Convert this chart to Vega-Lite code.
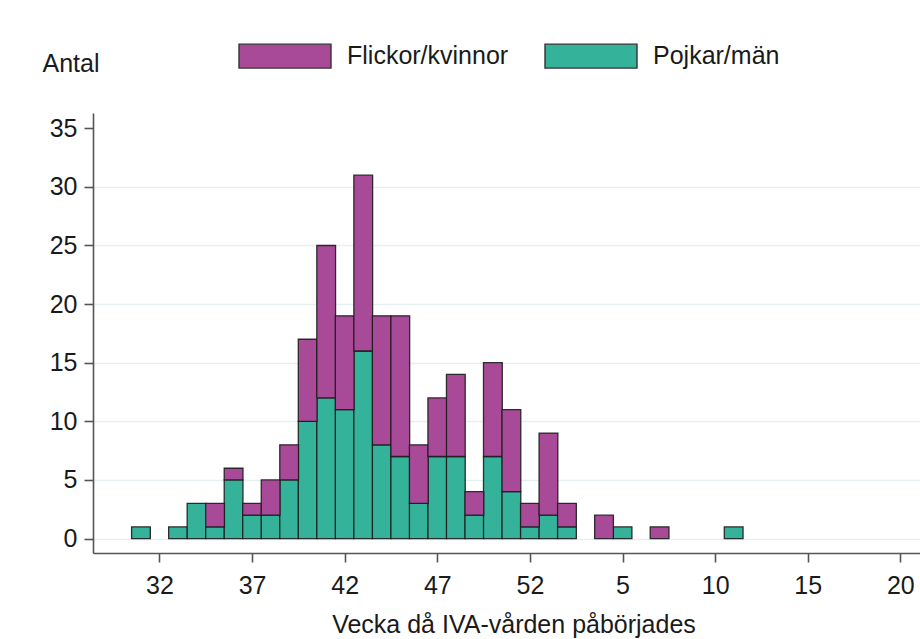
{
  "$schema": "https://vega.github.io/schema/vega-lite/v6.json",
  "autosize": {"type": "none"},
  "width": 827,
  "height": 440,
  "padding": {"left": 93, "top": 113, "right": 0, "bottom": 86},
  "background": "white",
  "config": {
    "view": {"stroke": null},
    "font": "Liberation Sans"
  },
  "data": {
    "values": [
      {"vecka": 31, "kon": "Pojkar/män", "antal": 1},
      {"vecka": 33, "kon": "Pojkar/män", "antal": 1},
      {"vecka": 34, "kon": "Pojkar/män", "antal": 3},
      {"vecka": 35, "kon": "Pojkar/män", "antal": 1},
      {"vecka": 36, "kon": "Pojkar/män", "antal": 5},
      {"vecka": 37, "kon": "Pojkar/män", "antal": 2},
      {"vecka": 38, "kon": "Pojkar/män", "antal": 2},
      {"vecka": 39, "kon": "Pojkar/män", "antal": 5},
      {"vecka": 40, "kon": "Pojkar/män", "antal": 10},
      {"vecka": 41, "kon": "Pojkar/män", "antal": 12},
      {"vecka": 42, "kon": "Pojkar/män", "antal": 11},
      {"vecka": 43, "kon": "Pojkar/män", "antal": 16},
      {"vecka": 44, "kon": "Pojkar/män", "antal": 8},
      {"vecka": 45, "kon": "Pojkar/män", "antal": 7},
      {"vecka": 46, "kon": "Pojkar/män", "antal": 3},
      {"vecka": 47, "kon": "Pojkar/män", "antal": 7},
      {"vecka": 48, "kon": "Pojkar/män", "antal": 7},
      {"vecka": 49, "kon": "Pojkar/män", "antal": 2},
      {"vecka": 50, "kon": "Pojkar/män", "antal": 7},
      {"vecka": 51, "kon": "Pojkar/män", "antal": 4},
      {"vecka": 52, "kon": "Pojkar/män", "antal": 1},
      {"vecka": 53, "kon": "Pojkar/män", "antal": 2},
      {"vecka": 54, "kon": "Pojkar/män", "antal": 1},
      {"vecka": 57, "kon": "Pojkar/män", "antal": 1},
      {"vecka": 63, "kon": "Pojkar/män", "antal": 1},
      {"vecka": 35, "kon": "Flickor/kvinnor", "antal": 2},
      {"vecka": 36, "kon": "Flickor/kvinnor", "antal": 1},
      {"vecka": 37, "kon": "Flickor/kvinnor", "antal": 1},
      {"vecka": 38, "kon": "Flickor/kvinnor", "antal": 3},
      {"vecka": 39, "kon": "Flickor/kvinnor", "antal": 3},
      {"vecka": 40, "kon": "Flickor/kvinnor", "antal": 7},
      {"vecka": 41, "kon": "Flickor/kvinnor", "antal": 13},
      {"vecka": 42, "kon": "Flickor/kvinnor", "antal": 8},
      {"vecka": 43, "kon": "Flickor/kvinnor", "antal": 15},
      {"vecka": 44, "kon": "Flickor/kvinnor", "antal": 11},
      {"vecka": 45, "kon": "Flickor/kvinnor", "antal": 12},
      {"vecka": 46, "kon": "Flickor/kvinnor", "antal": 5},
      {"vecka": 47, "kon": "Flickor/kvinnor", "antal": 5},
      {"vecka": 48, "kon": "Flickor/kvinnor", "antal": 7},
      {"vecka": 49, "kon": "Flickor/kvinnor", "antal": 2},
      {"vecka": 50, "kon": "Flickor/kvinnor", "antal": 8},
      {"vecka": 51, "kon": "Flickor/kvinnor", "antal": 7},
      {"vecka": 52, "kon": "Flickor/kvinnor", "antal": 2},
      {"vecka": 53, "kon": "Flickor/kvinnor", "antal": 7},
      {"vecka": 54, "kon": "Flickor/kvinnor", "antal": 2},
      {"vecka": 56, "kon": "Flickor/kvinnor", "antal": 2},
      {"vecka": 59, "kon": "Flickor/kvinnor", "antal": 1}
    ]
  },
  "mark": {"type": "bar", "size": 18.75, "stroke": "#1c1c1c", "strokeWidth": 1.3, "strokeOpacity": 0.9},
  "encoding": {
    "x": {
      "field": "vecka",
      "type": "quantitative",
      "scale": {"domain": [28.68, 72.79], "nice": false, "zero": false},
      "axis": {
        "values": [32, 37, 42, 47, 52, 57, 62, 67, 72],
        "labelExpr": "datum.value > 52 ? datum.value - 52 : datum.value",
        "grid": false,
        "domainColor": "#555555",
        "domainWidth": 1.6,
        "tickColor": "#555555",
        "tickWidth": 1.6,
        "tickSize": 9,
        "labelFont": "Liberation Sans",
        "labelFontSize": 25,
        "labelColor": "#1a1a1a",
        "labelBaseline": "alphabetic",
        "labelPadding": 31,
        "labelFlush": false,
        "labelOverlap": false,
        "title": "Vecka då IVA-vården påbörjades",
        "titleFont": "Liberation Sans",
        "titleFontSize": 25,
        "titleFontWeight": "normal",
        "titleColor": "#1a1a1a",
        "titleX": 420.5,
        "titleY": 79,
        "titleAlign": "center",
        "titleBaseline": "alphabetic"
      }
    },
    "y": {
      "field": "antal",
      "type": "quantitative",
      "stack": "zero",
      "scale": {"domain": [-1.23, 36.3], "nice": false, "zero": false},
      "axis": {
        "values": [0, 5, 10, 15, 20, 25, 30, 35],
        "grid": true,
        "gridColor": {"condition": {"test": "datum.value === 35", "value": "transparent"}, "value": "#e6eff2"},
        "gridWidth": 1.6,
        "domainColor": "#555555",
        "domainWidth": 1.6,
        "tickColor": "#555555",
        "tickWidth": 1.6,
        "tickSize": 9,
        "labelFont": "Liberation Sans",
        "labelFontSize": 25,
        "labelColor": "#1a1a1a",
        "labelPadding": 7,
        "labelBaseline": "middle",
        "labelFlush": false,
        "labelOverlap": false,
        "title": "Antal",
        "titleAngle": 0,
        "titleFont": "Liberation Sans",
        "titleFontSize": 25,
        "titleFontWeight": "normal",
        "titleColor": "#1a1a1a",
        "titleX": -51,
        "titleY": -42,
        "titleAlign": "left",
        "titleBaseline": "alphabetic"
      }
    },
    "color": {
      "field": "kon",
      "type": "nominal",
      "scale": {"domain": ["Flickor/kvinnor", "Pojkar/män"], "range": ["#a94a99", "#34b29a"]},
      "legend": {
        "title": null,
        "orient": "none",
        "direction": "horizontal",
        "legendX": 145,
        "legendY": -104,
        "padding": 0,
        "symbolType": "M-1,-0.26H1V0.26H-1Z",
        "symbolSize": 8464,
        "symbolStrokeColor": "#333333",
        "symbolStrokeWidth": 1.4,
        "symbolOpacity": 1,
        "labelOffset": 15,
        "labelFont": "Liberation Sans",
        "labelFontSize": 25,
        "labelColor": "#1a1a1a",
        "labelLimit": 400,
        "columnPadding": 33
      }
    },
    "order": {"field": "kon", "sort": "descending"}
  }
}
